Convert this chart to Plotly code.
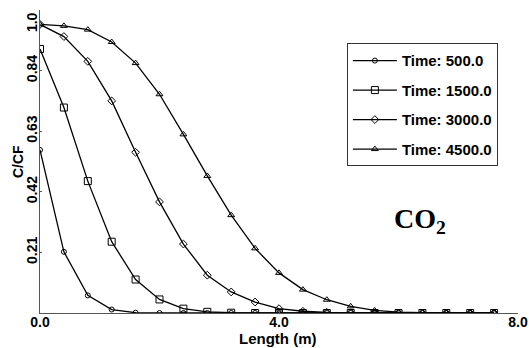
import plotly.graph_objects as go

# Distance along the column (m)
length = [0.0, 0.4, 0.8, 1.2, 1.6, 2.0, 2.4, 2.8, 3.2, 3.6,
          4.0, 4.4, 4.8, 5.2, 5.6, 6.0, 6.4, 6.8, 7.2, 7.6]

# Normalised concentration C/CF at each output time
c_500 = [0.565, 0.212, 0.061, 0.012, 0.001, 0.0, 0.0, 0.0, 0.0, 0.0,
         0.0, 0.0, 0.0, 0.0, 0.0, 0.0, 0.0, 0.0, 0.0, 0.0]
c_1500 = [0.915, 0.712, 0.457, 0.247, 0.116, 0.047, 0.015, 0.004, 0.001, 0.0,
          0.0, 0.0, 0.0, 0.0, 0.0, 0.0, 0.0, 0.0, 0.0, 0.0]
c_3000 = [1.0, 0.958, 0.872, 0.735, 0.557, 0.385, 0.239, 0.131, 0.073, 0.038,
          0.015, 0.006, 0.002, 0.001, 0.0, 0.0, 0.0, 0.0, 0.0, 0.0]
c_4500 = [1.0, 0.995, 0.982, 0.939, 0.866, 0.758, 0.619, 0.475, 0.339, 0.224,
          0.139, 0.081, 0.046, 0.023, 0.009, 0.003, 0.001, 0.0, 0.0, 0.0]

series_names = ["Time: 500.0", "Time: 1500.0", "Time: 3000.0", "Time: 4500.0"]
series_values = [c_500, c_1500, c_3000, c_4500]
series_symbols = ["circle-open", "square-open", "diamond-open", "triangle-up-open"]
series_sizes = [5, 7, 6, 6]

x_ticks = [0.0, 4.0, 8.0]
x_tick_labels = ["0.0", "4.0", "8.0"]
y_ticks = [0.21, 0.42, 0.63, 0.84, 1.0]
y_tick_labels = ["0.21", "0.42", "0.63", "0.84", "1.0"]

sans = "Liberation Sans, Arial, sans-serif"


def bold_sans(size):
    return dict(family=sans, size=size, color="black", weight="bold")


fig = go.Figure()
for i, (name, vals, sym, sz) in enumerate(zip(series_names, series_values,
                                               series_symbols, series_sizes)):
    fig.add_trace(go.Scatter(
        x=length, y=vals, name=name, mode="lines+markers",
        legendgroup=f"g{i}",
        line=dict(color="black", width=1.3),
        marker=dict(symbol=sym, size=sz, color="black",
                    line=dict(color="black", width=1)),
    ))

# Species label inside the plot area
fig.add_annotation(
    x=0.853, y=0.24, xref="paper", yref="paper",
    xanchor="right", yanchor="bottom",
    text="CO<sub>2</sub>", showarrow=False,
    font=dict(family="Liberation Serif, Times New Roman, serif", size=28,
              color="black", weight="bold"),
)

# Axis titles
fig.add_annotation(
    x=0.496, y=-0.083, xref="paper", yref="paper",
    xanchor="center", yanchor="middle",
    text="Length (m)", showarrow=False, font=bold_sans(15),
)
fig.add_annotation(
    x=-0.046, y=0.498, xref="paper", yref="paper",
    xanchor="center", yanchor="middle",
    text="C/CF", textangle=-90, showarrow=False, font=bold_sans(14),
)

fig.update_layout(
    width=529, height=348,
    margin=dict(l=40, r=11, t=10, b=35),
    paper_bgcolor="white", plot_bgcolor="white",
    showlegend=True,
    legend=dict(
        x=0.642, y=0.89, xanchor="left", yanchor="top",
        bordercolor="#333333", borderwidth=1, bgcolor="white",
        font=bold_sans(15),
        tracegroupgap=7, itemwidth=44,
    ),
    xaxis=dict(
        range=[0, 8], tickvals=x_ticks, ticktext=x_tick_labels,
        showgrid=False, zeroline=False, showline=True,
        linecolor="#555555", linewidth=1,
        ticks="inside", ticklen=3, tickcolor="#555555",
        ticklabelstandoff=-4,
        tickfont=bold_sans(14),
        automargin=False,
    ),
    yaxis=dict(
        range=[0, 1.05], tickvals=y_ticks, ticktext=y_tick_labels,
        tickangle=-90,
        showgrid=False, zeroline=False, showline=True,
        linecolor="#555555", linewidth=1,
        ticks="inside", ticklen=2, tickcolor="#555555",
        ticklabelstandoff=-4,
        tickfont=bold_sans(14),
        automargin=False,
    ),
)

fig.write_html("out.html")
